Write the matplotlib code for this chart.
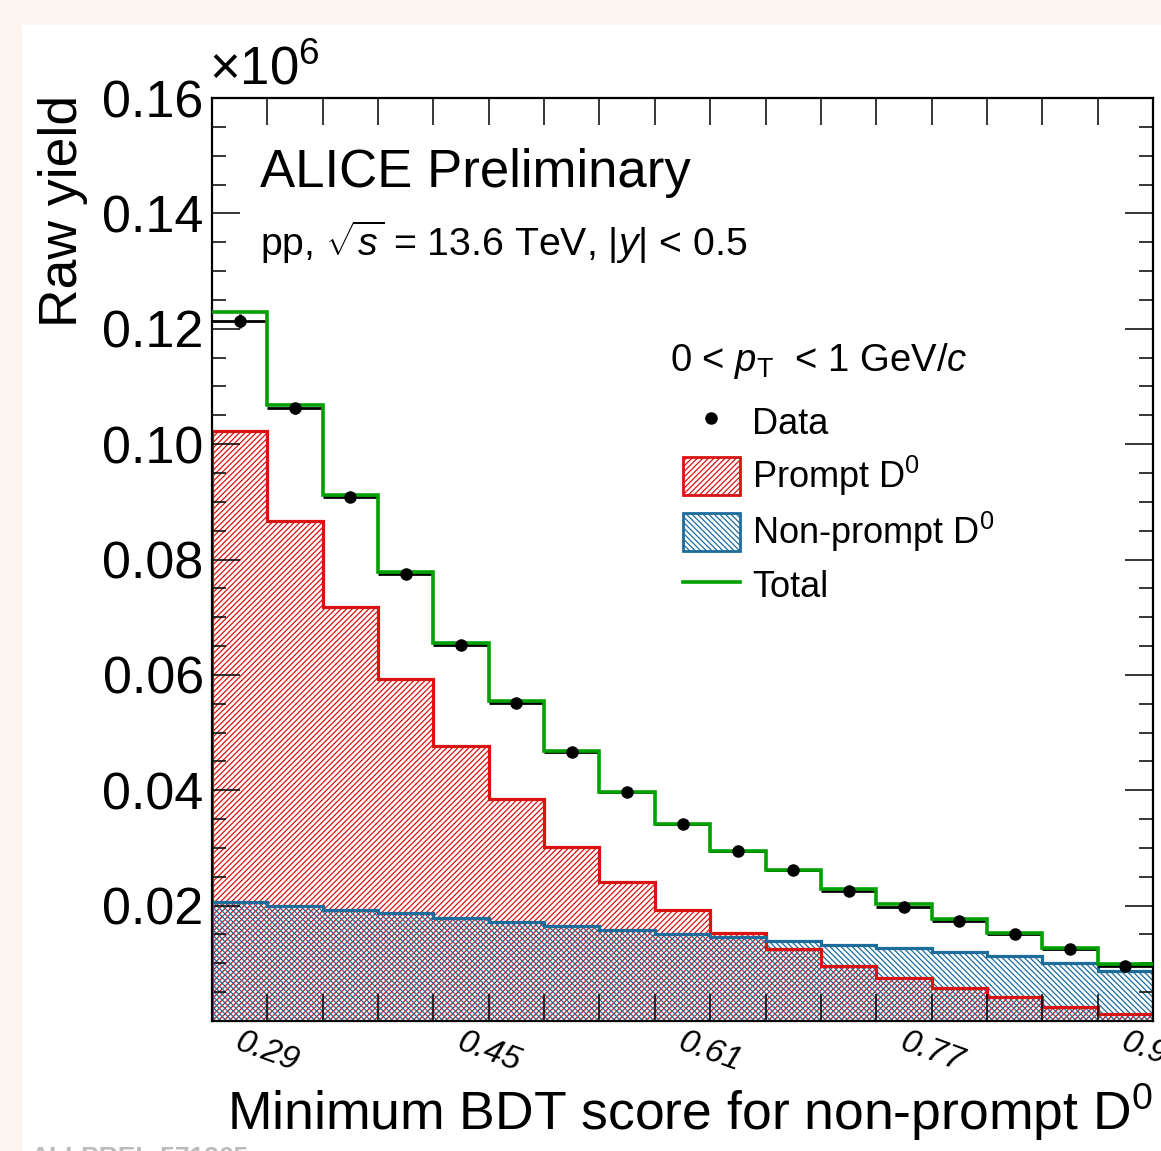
import numpy as np
import matplotlib
matplotlib.use('Agg')
import matplotlib.pyplot as plt
from matplotlib.patches import Patch, Rectangle
from matplotlib.lines import Line2D
from matplotlib.ticker import MultipleLocator

plt.rcParams['font.family'] = ['Liberation Sans', 'DejaVu Sans']
plt.rcParams['mathtext.fontset'] = 'custom'
plt.rcParams['mathtext.rm'] = 'Liberation Sans'
plt.rcParams['mathtext.it'] = 'Liberation Sans:italic'
plt.rcParams['mathtext.bf'] = 'Liberation Sans:bold'
plt.rcParams['hatch.linewidth'] = 0.9

# BDT score bins (0.25 - 0.93, width 0.04)
edges = np.round(np.arange(0.25, 0.9301, 0.04), 2)
centers = 0.5 * (edges[:-1] + edges[1:])

# raw yields, in units of 1e6
data = [0.1214, 0.1062, 0.0908, 0.0774, 0.0652, 0.0551, 0.0467, 0.0397, 0.0342,
        0.0295, 0.0261, 0.0226, 0.0198, 0.0173, 0.0150, 0.0124, 0.0096]
data_err = [0.0012, 0.0010, 0.0009, 0.0008, 0.0007, 0.0006, 0.0006, 0.0005, 0.0005,
            0.0004, 0.0004, 0.0004, 0.0003, 0.0003, 0.0003, 0.0003, 0.0003]
prompt = [0.1022, 0.0866, 0.0717, 0.0593, 0.0477, 0.0385, 0.0302, 0.0241, 0.0193,
          0.0153, 0.0124, 0.0096, 0.0075, 0.0058, 0.0041, 0.0025, 0.0013]
nonprompt = [0.0207, 0.0200, 0.0193, 0.0188, 0.0178, 0.0171, 0.0164, 0.0157, 0.0150,
             0.0145, 0.0138, 0.0131, 0.0126, 0.0120, 0.0112, 0.0101, 0.0086]
total = [0.1229, 0.1067, 0.0911, 0.0778, 0.0655, 0.0555, 0.0468, 0.0397, 0.0342,
         0.0295, 0.0261, 0.0228, 0.0202, 0.0176, 0.0153, 0.0126, 0.0099]

tick_labels = ['0.29', '0.45', '0.61', '0.77', '0.93']

red = '#DA1212'
blue = '#1C6C9C'
green = '#00A000'

fig = plt.figure(figsize=(11.61, 11.51), dpi=100, facecolor='#FDF5EF')
fig.patches.append(Rectangle((22 / 1161, 0), 1 - 22 / 1161, 1 - 25 / 1151,
                             transform=fig.transFigure, facecolor='white',
                             edgecolor='none', zorder=-1))
ax = fig.add_axes([212 / 1161, 1 - 1021 / 1151, 941 / 1161, 923 / 1151])
ax.set_facecolor('none')

# templates (not stacked)
ax.stairs(prompt, edges, baseline=0, fill=True, facecolor='none', edgecolor=red,
          hatch='//////', linewidth=0, zorder=1)
ax.stairs(nonprompt, edges, baseline=0, fill=True, facecolor='none', edgecolor=blue,
          hatch='\\\\\\\\\\\\', linewidth=0, zorder=1.1)
ax.stairs(prompt, edges, baseline=0, color=red, linewidth=2.3, zorder=1.5)
ax.stairs(nonprompt, edges, baseline=0, color=blue, linewidth=2.3, zorder=1.6)

# data with bin-width bars
ax.errorbar(centers, data, xerr=0.02, yerr=data_err, fmt='none', ecolor='black',
            elinewidth=2, capsize=0, zorder=2)
ax.stairs(total, edges, baseline=None, color=green, linewidth=2.6, zorder=3)
ax.plot(centers, data, 'o', color='black', markersize=8, zorder=4)

ax.set_xlim(0.25, 0.93)
ax.set_ylim(0, 0.16)

ax.set_xticks(edges)
ax.set_xticklabels([f'{e:.2f}' if f'{e:.2f}' in tick_labels else '' for e in edges],
                   rotation=-20, style='italic', fontsize=24, ha='center',
                   rotation_mode='default')
ax.set_yticks(np.round(np.arange(0.02, 0.161, 0.02), 2))
ax.set_yticklabels([f'{v:.2f}' for v in np.arange(0.02, 0.161, 0.02)], fontsize=37.5)
ax.yaxis.set_minor_locator(MultipleLocator(0.005))
ax.tick_params(axis='x', which='major', direction='in', length=19.5, width=1.1,
               top=True, pad=4)
ax.tick_params(axis='y', which='major', direction='in', length=20, width=1.1,
               right=True, pad=6)
ax.tick_params(axis='y', which='minor', direction='in', length=10, width=1.1,
               right=True)
for s in ax.spines.values():
    s.set_linewidth(1.6)

ax.text(-0.003, 1.003, r'$\times$10$^{6}$', transform=ax.transAxes, fontsize=38,
        ha='left', va='bottom')

ax.set_ylabel('Raw yield', fontsize=38.5, loc='top')
ax.yaxis.set_label_coords(-0.132, 1.003)
ax.set_xlabel(r'Minimum BDT score for non-prompt D$^{0}$', fontsize=38.5, loc='right')
ax.xaxis.set_label_coords(1.0, -0.066)

ax.text(0.051, 0.9036, 'ALICE Preliminary', transform=ax.transAxes, fontsize=38,
        va='baseline')
ax.text(0.051, 0.829, r'pp, $\sqrt{s}$ = 13.6 TeV, |$y$| < 0.5', transform=ax.transAxes,
        fontsize=28.3, va='baseline')
ax.text(0.487, 0.7045, r'0 < $p_{\rm T}$  < 1 GeV/$c$', transform=ax.transAxes,
        fontsize=27.5, va='baseline')

handles = [
    Line2D([], [], marker='o', color='black', linestyle='none', markersize=8),
    Patch(facecolor='white', edgecolor=red, hatch='//////', linewidth=2),
    Patch(facecolor='white', edgecolor=blue, hatch='\\\\\\\\\\\\', linewidth=2),
    Line2D([], [], color=green, linewidth=2.6),
]
labels = ['Data', r'Prompt D$^{0}$', r'Non-prompt D$^{0}$', 'Total']
ax.legend(handles, labels, loc='upper left', bbox_to_anchor=(0.5005, 0.670),
          frameon=False, fontsize=26, handlelength=1.58, handleheight=1.25,
          handletextpad=0.33, labelspacing=0.33, borderpad=0, borderaxespad=0)

fig.text(0.026, 0.004, 'ALI-PREL-571365', color='#BBBBBB', fontsize=19,
         fontweight='bold', va='top')

fig.savefig('out.png', dpi=100, facecolor=fig.get_facecolor())
